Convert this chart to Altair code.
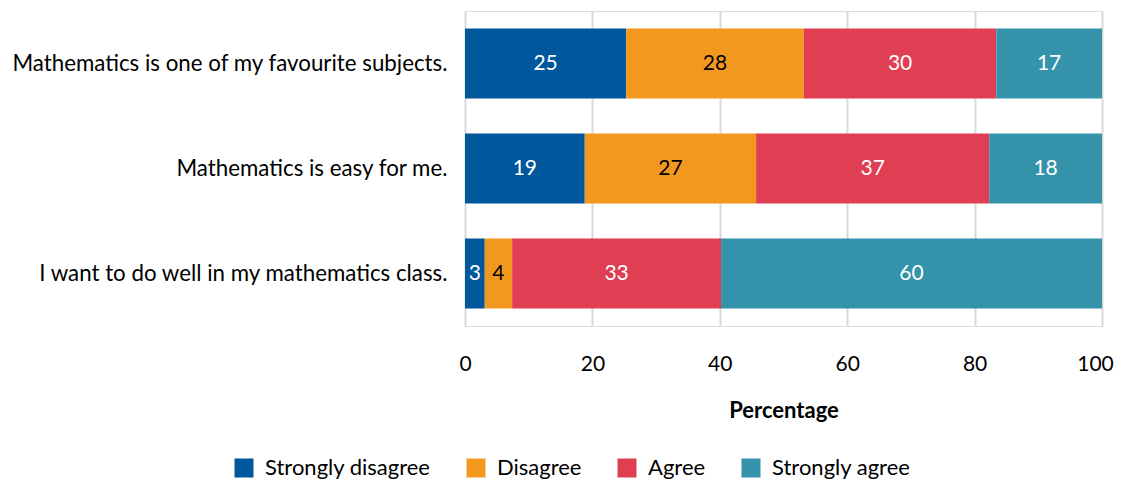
import altair as alt
import pandas as pd

statements = [
    "Mathematics is one of my favourite subjects.",
    "Mathematics is easy for me.",
    "I want to do well in my mathematics class.",
]
categories = ["Strongly disagree", "Disagree", "Agree", "Strongly agree"]
strongly_disagree = [25.3, 18.8, 3.1]
disagree = [27.9, 26.9, 4.3]
agree = [30.2, 36.6, 32.8]
strongly_agree = [16.6, 17.7, 59.8]
colors = ["#00579B", "#F3981F", "#E03E53", "#3592AB"]

series = [strongly_disagree, disagree, agree, strongly_agree]
rows = []
for i, s in enumerate(statements):
    for j, (c, vals) in enumerate(zip(categories, series)):
        rows.append({"statement": s, "category": c, "order": j, "value": vals[i]})
df = pd.DataFrame(rows)

FONT = "Lato"

base = alt.Chart(df).transform_stack(
    stack="value", groupby=["statement"], sort=[alt.SortField("order")], as_=["x0", "x1"]
).transform_calculate(
    mid="(datum.x0 + datum.x1) / 2",
    label="format(datum.value, '.0f')",
)

yenc = alt.Y(
    "statement:N",
    sort=statements,
    scale=alt.Scale(paddingInner=1 / 3, paddingOuter=1 / 6),
    axis=alt.Axis(
        title=None, labelFontSize=22.3, labelPadding=18, ticks=False, domain=False,
        labelLimit=0, labelColor="#000000", labelFont=FONT,
    ),
)

bars = base.mark_bar().encode(
    x=alt.X(
        "x0:Q",
        scale=alt.Scale(domain=[0, 100], nice=False),
        axis=alt.Axis(
            title="Percentage", values=[0, 20, 40, 60, 80, 100], labelFontSize=21,
            labelPadding=27, ticks=False, domain=False, grid=True, gridColor="#D9D9D9",
            gridWidth=2, titleFontSize=22, titleFontWeight="bold", titlePadding=26,
            labelColor="#000000", titleColor="#000000", labelFont=FONT, titleFont=FONT,
            labelFlush=False,
            labelOffset=alt.condition("datum.value == 100", alt.value(-7), alt.value(0)),
        ),
    ),
    x2="x1:Q",
    y=yenc,
    color=alt.Color(
        "category:N",
        sort=categories,
        scale=alt.Scale(domain=categories, range=colors),
        legend=alt.Legend(
            title=None, orient="none", direction="horizontal", legendX=-232, legendY=446,
            symbolType="square", symbolSize=361, symbolStrokeWidth=0, labelFontSize=22,
            labelFont=FONT, labelColor="#000000", columnPadding=34, labelOffset=10,
            padding=0, labelLimit=0,
        ),
    ),
    order=alt.Order("order:Q"),
)

labels = base.mark_text(fontSize=21, font=FONT, baseline="middle", align="center").encode(
    x=alt.X("mid:Q"),
    y=alt.Y("statement:N", sort=statements),
    text="label:N",
    color=alt.condition(
        "datum.category == 'Disagree'", alt.value("#000000"), alt.value("#FFFFFF")
    ),
)

chart = (
    alt.layer(bars, labels)
    .properties(
        width=637,
        height=315,
        autosize=alt.AutoSizeParams(type="none"),
        padding={"left": 457, "top": 3, "right": 12, "bottom": 153},
    )
    .configure_view(strokeWidth=0, stroke="transparent")
    .configure(background="white")
)

chart.save("out.html", embed_options={"renderer": "svg", "actions": False})
